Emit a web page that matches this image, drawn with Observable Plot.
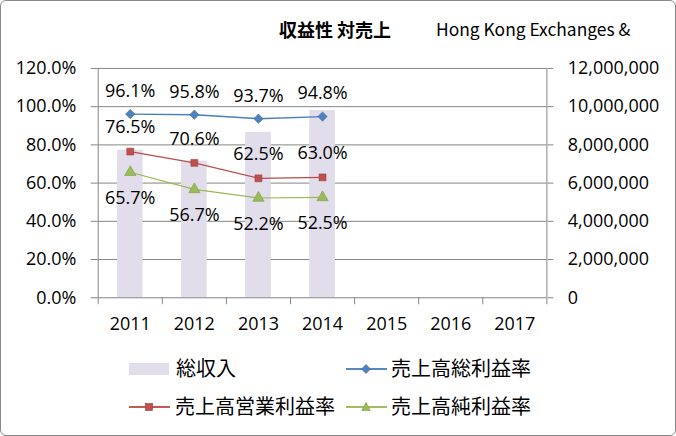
<!DOCTYPE html>
<html><head><meta charset="utf-8">
<script src="https://cdn.jsdelivr.net/npm/d3@7"></script>
<script src="https://cdn.jsdelivr.net/npm/@observablehq/plot@0.6"></script>
<style>
body{margin:0;background:#fff;}
#wrap{position:relative;width:676px;height:436px;box-sizing:border-box;border:1px solid #8a8a8a;border-radius:6px;overflow:hidden;background:#fff;}
.tt{position:absolute;top:16px;font-family:"Noto Sans CJK JP";line-height:24px;white-space:nowrap;color:#000;}
#t1{left:278px;font-size:18px;font-weight:700;}
#t2{left:435px;font-size:17.4px;font-weight:400;}
#chart{position:absolute;left:0;top:50px;}
.lg{position:absolute;font-family:"Noto Sans CJK JP";font-size:20px;line-height:24px;white-space:nowrap;color:#000;}
.sw{position:absolute;}
</style></head>
<body><div id="wrap">
<div id="t1" class="tt">収益性 対売上</div>
<div id="t2" class="tt">Hong Kong Exchanges &amp;</div>
<div id="chart"></div>
<div id="legend"></div>
</div>
<script>
const dataYears = [2011, 2012, 2013, 2014];
const allYears = [2011, 2012, 2013, 2014, 2015, 2016, 2017];
const revenue = [7720000, 7150000, 8660000, 9800000];
const grossMargin = [96.1, 95.8, 93.7, 94.8];
const opMargin = [76.5, 70.6, 62.5, 63.0];
const netMargin = [65.7, 56.7, 52.2, 52.5];
const leftTicks = [0, 20, 40, 60, 80, 100, 120];
const rightTicks = [0, 2000000, 4000000, 6000000, 8000000, 10000000, 12000000];
const seriesNames = ["総収入", "売上高総利益率", "売上高営業利益率", "売上高純利益率"];

const RSCALE = 100000; // 12,000,000 on right axis ↔ 120% on left axis
const grid = "#868686";
const font = "Open Sans";

const bars = dataYears.map((y, i) => ({year: y, v: revenue[i] / RSCALE}));
const mk = arr => dataYears.map((y, i) => ({year: y, v: arr[i]}));
const gross = mk(grossMargin), op = mk(opMargin), net = mk(netMargin);
const halfTicks = d3.range(allYears[0] - 0.5, allYears[allYears.length - 1] + 1, 1);

const plot = Plot.plot({
  width: 676, height: 290,
  marginLeft: 97, marginRight: 129, marginTop: 17, marginBottom: 43,
  style: {fontFamily: font, fontSize: "18px", color: "#000", background: "transparent"},
  x: {type: "linear", domain: [allYears[0] - 0.5, allYears[allYears.length - 1] + 0.5]},
  y: {domain: [0, 120]},
  marks: [
    Plot.ruleY(leftTicks.slice(1), {stroke: grid, strokeWidth: 1}),
    Plot.rectY(bars, {x1: d => d.year - 0.2, x2: d => d.year + 0.2, y1: 0, y2: "v", fill: "#E2DDEA"}),
    Plot.ruleX([allYears[0] - 0.5, allYears[allYears.length - 1] + 0.5], {stroke: grid}),
    Plot.ruleY([0], {stroke: grid}),
    Plot.axisY({anchor: "left", label: null, ticks: leftTicks, tickFormat: d => d.toFixed(1) + "%", tickSize: 7, tickPadding: 15, stroke: grid, fill: "#000"}),
    Plot.axisY({anchor: "right", label: null, ticks: rightTicks.map(v => v / RSCALE), tickFormat: d => d3.format(",")(Math.round(d * RSCALE)), tickSize: 6, tickPadding: 15, stroke: grid, fill: "#000", textAnchor: "start"}),
    Plot.axisX({label: null, ticks: halfTicks, tickFormat: () => "", tickSize: 7, stroke: grid}),
    Plot.axisX({label: null, ticks: allYears, tickFormat: d => String(d), tickSize: 0, tickPadding: 20, fill: "#000"}),
    Plot.line(gross, {x: "year", y: "v", stroke: "#4A7EBB", strokeWidth: 1.4}),
    Plot.line(op, {x: "year", y: "v", stroke: "#BE4B48", strokeWidth: 1.2}),
    Plot.line(net, {x: "year", y: "v", stroke: "#98B954", strokeWidth: 1.2}),
    Plot.dot(gross, {x: "year", y: "v", symbol: "diamond2", r: 4.2, fill: "#4F81BD", stroke: "#3D6BA3", strokeWidth: 0.6}),
    Plot.dot(op, {x: "year", y: "v", symbol: "square", r: 3.9, fill: "#C0504D", stroke: "#9A3B38", strokeWidth: 0.6}),
    Plot.dot(net, {x: "year", y: "v", symbol: "triangle", r: 4.2, fill: "#9BBB59", stroke: "#7E9B43", strokeWidth: 0.6}),
    Plot.text(gross, {x: "year", y: "v", text: d => d.v.toFixed(1) + "%", dy: -23, fill: "#000", fontSize: 18}),
    Plot.text(op, {x: "year", y: "v", text: d => d.v.toFixed(1) + "%", dy: -24, fill: "#000", fontSize: 18}),
    Plot.text(net, {x: "year", y: "v", text: d => d.v.toFixed(1) + "%", dy: 26, fill: "#000", fontSize: 18})
  ]
});
document.getElementById("chart").appendChild(plot);

// legend
const lg = document.getElementById("legend");
function swatch(x, y, kind, color, stroke) {
  const ns = "http://www.w3.org/2000/svg";
  const s = document.createElementNS(ns, "svg");
  s.setAttribute("class", "sw");
  s.setAttribute("width", 44); s.setAttribute("height", 16);
  s.style.left = x + "px"; s.style.top = (y - 8) + "px";
  if (kind === "bar") {
    s.innerHTML = `<rect x="0" y="2" width="40" height="12" fill="${color}"/>`;
  } else {
    let m = "";
    if (kind === "diamond") m = `<path d="M20,3.5L24.5,8L20,12.5L15.5,8Z" fill="${color}" stroke="${stroke}" stroke-width="0.6"/>`;
    if (kind === "square") m = `<rect x="16.5" y="4.5" width="7" height="7" fill="${color}" stroke="${stroke}" stroke-width="0.6"/>`;
    if (kind === "triangle") m = `<path d="M20,3.5L24.2,11.5L15.8,11.5Z" fill="${color}" stroke="${stroke}" stroke-width="0.6"/>`;
    s.innerHTML = `<line x1="0" x2="41" y1="8" y2="8" stroke="${color}" stroke-width="1.4"/>` + m;
  }
  lg.appendChild(s);
}
function label(x, y, t) {
  const d = document.createElement("div");
  d.className = "lg"; d.textContent = t;
  d.style.left = x + "px"; d.style.top = (y - 12) + "px";
  lg.appendChild(d);
}
swatch(128, 368, "bar", "#E2DDEA");
label(175, 367, seriesNames[0]);
swatch(345, 368, "line", "#4A7EBB"); swatch(345, 368, "diamond", "#4F81BD", "#3D6BA3");
label(390, 367, seriesNames[1]);
swatch(128, 406, "line", "#BE4B48"); swatch(128, 406, "square", "#C0504D", "#9A3B38");
label(174, 405, seriesNames[2]);
swatch(345, 406, "line", "#98B954"); swatch(345, 406, "triangle", "#9BBB59", "#7E9B43");
label(390, 405, seriesNames[3]);
</script>
</body></html>
